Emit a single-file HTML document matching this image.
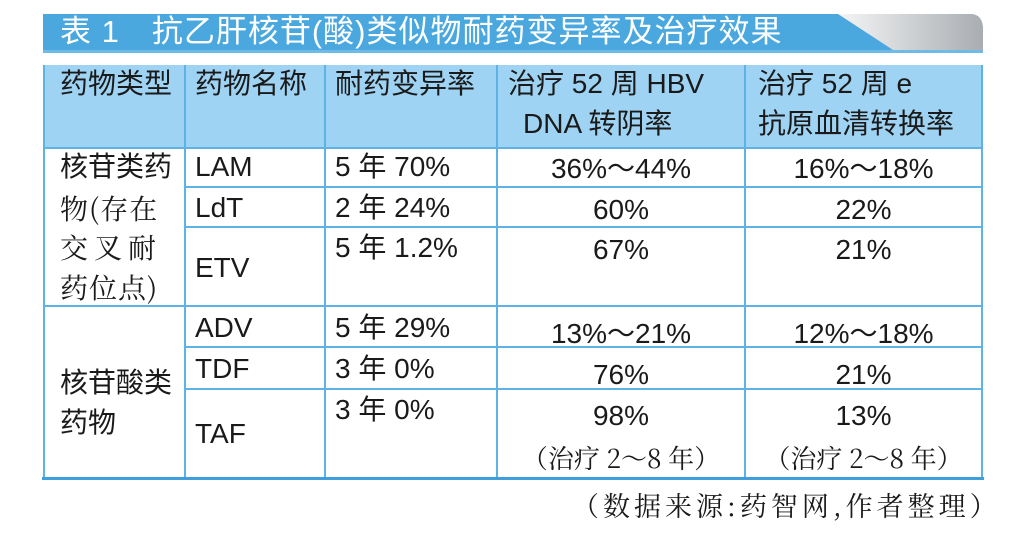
<!DOCTYPE html>
<html><head><meta charset="utf-8"><style>
body{margin:0;width:1011px;height:549px;background:#fff;overflow:hidden;position:relative;font-family:"Liberation Sans","Noto Sans CJK SC",sans-serif;color:#1a1a1a}
.t{position:absolute;font-size:28px;line-height:28px;white-space:nowrap}
.c{text-align:center}
.s{font-family:"Noto Serif CJK SC",serif}
</style></head><body>
<svg width="1011" height="549" style="position:absolute;left:0;top:0">
<defs><linearGradient id="g" x1="0" x2="1"><stop offset="0" stop-color="#f4f5f6"/><stop offset="1" stop-color="#a9adb1"/></linearGradient></defs>
<path d="M43 14 H970 Q983 14 983 30 V50 H43 Z" fill="#4aa8df"/>
<path d="M838 14 H970 Q983 14 983 30 V50 H893 Z" fill="url(#g)"/>
<rect x="43" y="50" width="940" height="3" fill="#6fbbe8"/>
<rect x="43" y="65" width="940" height="83" fill="#9fd3f3"/>
<g stroke="#5db2e6" stroke-width="2" fill="none">
<line x1="43" y1="148" x2="983" y2="148"/>
<line x1="185" y1="187" x2="983" y2="187"/>
<line x1="185" y1="227" x2="983" y2="227"/>
<line x1="43" y1="306" x2="983" y2="306"/>
<line x1="185" y1="347" x2="983" y2="347"/>
<line x1="185" y1="389" x2="983" y2="389"/>
<line x1="44" y1="65" x2="44" y2="478"/>
<line x1="185" y1="65" x2="185" y2="478"/>
<line x1="325" y1="65" x2="325" y2="478"/>
<line x1="497" y1="65" x2="497" y2="478"/>
<line x1="745" y1="65" x2="745" y2="478"/>
<line x1="982" y1="65" x2="982" y2="478"/>
</g>
<rect x="42" y="477" width="942" height="3" fill="#3d9fdc"/>
</svg>
<div class="t" style="left:60px;top:16px;font-size:31px;line-height:31px;color:#fff;letter-spacing:1px">表 1　抗乙肝核苷(酸)类似物耐药变异率及治疗效果</div>
<div class="t" style="left:60px;top:70px">药物类型</div>
<div class="t" style="left:195px;top:70px">药物名称</div>
<div class="t" style="left:335px;top:70px">耐药变异率</div>
<div class="t" style="left:508px;top:70px">治疗 52 周 HBV</div>
<div class="t" style="left:523px;top:110px">DNA 转阴率</div>
<div class="t" style="left:758px;top:70px">治疗 52 周 e</div>
<div class="t" style="left:758px;top:110px">抗原血清转换率</div>
<div class="t" style="left:60px;top:153px">核苷类药</div>
<div class="t s" style="left:60px;top:194px;letter-spacing:1px">物(存在</div>
<div class="t s" style="left:60px;top:233px;letter-spacing:6px">交叉耐</div>
<div class="t s" style="left:60px;top:273px;letter-spacing:1px">药位点)</div>
<div class="t" style="left:60px;top:369px">核苷酸类</div>
<div class="t" style="left:60px;top:409px">药物</div>
<div class="t" style="left:195px;top:153px">LAM</div>
<div class="t" style="left:195px;top:194px">LdT</div>
<div class="t" style="left:195px;top:254px">ETV</div>
<div class="t" style="left:195px;top:314px">ADV</div>
<div class="t" style="left:195px;top:355px">TDF</div>
<div class="t" style="left:195px;top:420px">TAF</div>
<div class="t" style="left:335px;top:153px">5 年 70%</div>
<div class="t" style="left:335px;top:194px">2 年 24%</div>
<div class="t" style="left:335px;top:234px">5 年 1.2%</div>
<div class="t" style="left:335px;top:314px">5 年 29%</div>
<div class="t" style="left:335px;top:355px">3 年 0%</div>
<div class="t" style="left:335px;top:396px">3 年 0%</div>
<div class="t c" style="left:497px;width:248px;top:155px">36%～44%</div>
<div class="t c" style="left:497px;width:248px;top:196px">60%</div>
<div class="t c" style="left:497px;width:248px;top:236px">67%</div>
<div class="t c" style="left:497px;width:248px;top:320px">13%～21%</div>
<div class="t c" style="left:497px;width:248px;top:361px">76%</div>
<div class="t c" style="left:497px;width:248px;top:402px">98%</div>
<div class="t c s" style="left:497px;width:248px;top:444px;font-size:26px">（治疗 2～8 年）</div>
<div class="t c" style="left:745px;width:237px;top:155px">16%～18%</div>
<div class="t c" style="left:745px;width:237px;top:196px">22%</div>
<div class="t c" style="left:745px;width:237px;top:236px">21%</div>
<div class="t c" style="left:745px;width:237px;top:320px">12%～18%</div>
<div class="t c" style="left:745px;width:237px;top:361px">21%</div>
<div class="t c" style="left:745px;width:237px;top:402px">13%</div>
<div class="t c s" style="left:745px;width:237px;top:444px;font-size:26px">（治疗 2～8 年）</div>
<div class="t s" style="left:572px;top:491px;font-size:27px;letter-spacing:4px">（数据来源:药智网,作者整理）</div>
</body></html>
